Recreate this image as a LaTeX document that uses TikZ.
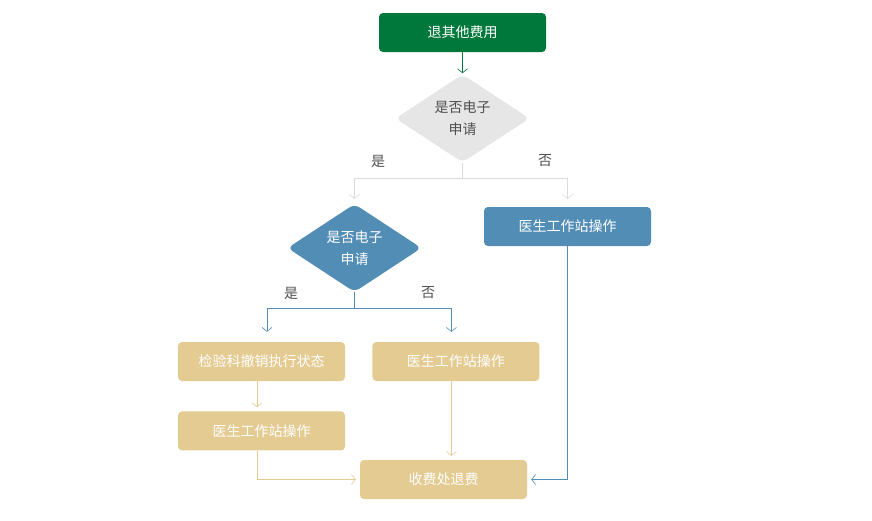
\documentclass[tikz,border=0pt]{standalone}
\usepackage{fontspec}
\usepackage{tikz}
\usetikzlibrary{positioning,shapes.geometric,arrows.meta}
\newfontfamily\cjk{Noto Sans CJK SC}

\definecolor{tuigreen}{HTML}{00783C}
\definecolor{askgray}{HTML}{E6E6E6}
\definecolor{linegray}{HTML}{DADADA}
\definecolor{docblue}{HTML}{528DB6}
\definecolor{feetan}{HTML}{E4CB91}
\definecolor{txtgray}{HTML}{505050}

\begin{document}
\begin{tikzpicture}[
  x=1pt, y=-1pt,
  font=\cjk\fontsize{14}{22}\selectfont,
  box/.style={rounded corners=4pt,minimum width=167pt,minimum height=39pt,inner sep=0pt,text=white},
  askdiamond/.style={diamond,aspect=1.55,rounded corners=6pt,inner sep=0pt,minimum width=134pt,minimum height=88pt,align=center},
  arr/.style={line width=0.8pt,-{Straight Barb[length=4pt,width=10pt,line width=0.6pt]},shorten >=4pt},
  lbl/.style={text=txtgray},
]
\useasboundingbox (0,0) rectangle (872,520);

\node[box,fill=tuigreen] (start) at (462.5,32.5) {退其他费用};
\node[askdiamond,fill=askgray,text=txtgray,below=22pt of start] (ask1) {是否电子\\申请};

\node[askdiamond,fill=docblue,text=white] (ask2) at (354.5,248) {是否电子\\申请};
\node[box,fill=docblue] (docA) at (567.5,226.5) {医生工作站操作};

\node[box,fill=feetan] (lab) at (261.5,361.5) {检验科撤销执行状态};
\node[box,fill=feetan,right=27pt of lab] (docB) {医生工作站操作};
\node[box,fill=feetan,below=30pt of lab] (docC) {医生工作站操作};
\node[box,fill=feetan] (fee) at (443.5,479.5) {收费处退费};

% first question
\draw[arr,tuigreen,shorten >=1pt] (start) -- (ask1.north);
\draw[linegray,line width=0.8pt] (ask1.south) -- ++(0,16) coordinate (s1);
\draw[arr,linegray,shorten >=5pt] (s1) -| (ask2.north);
\draw[arr,linegray,shorten >=8pt] (s1) -| (docA.north);
\node[lbl] at (378,161) {是};
\node[lbl] at (545,161) {否};

% second question
\draw[docblue,line width=0.8pt] (ask2.south) -- ++(0,16) coordinate (s2);
\draw[arr,docblue,shorten >=10pt] (s2) -| ([xshift=5.5pt]lab.north);
\draw[arr,docblue,shorten >=10pt] (s2) -| ([xshift=-4.5pt]docB.north);
\node[lbl] at (291,293) {是};
\node[lbl] at (428,293) {否};

% to the cashier
\draw[arr,feetan] ([xshift=-4.5pt]lab.south) -- ([xshift=-4.5pt]docC.north);
\draw[arr,feetan] ([xshift=-4.5pt]docB.south) -- ([xshift=-4.5pt]docB.south |- fee.north);
\draw[arr,feetan] ([xshift=-4.5pt]docC.south) |- (fee.west);
\draw[arr,docblue] (docA.south) |- (fee.east);
\end{tikzpicture}
\end{document}
